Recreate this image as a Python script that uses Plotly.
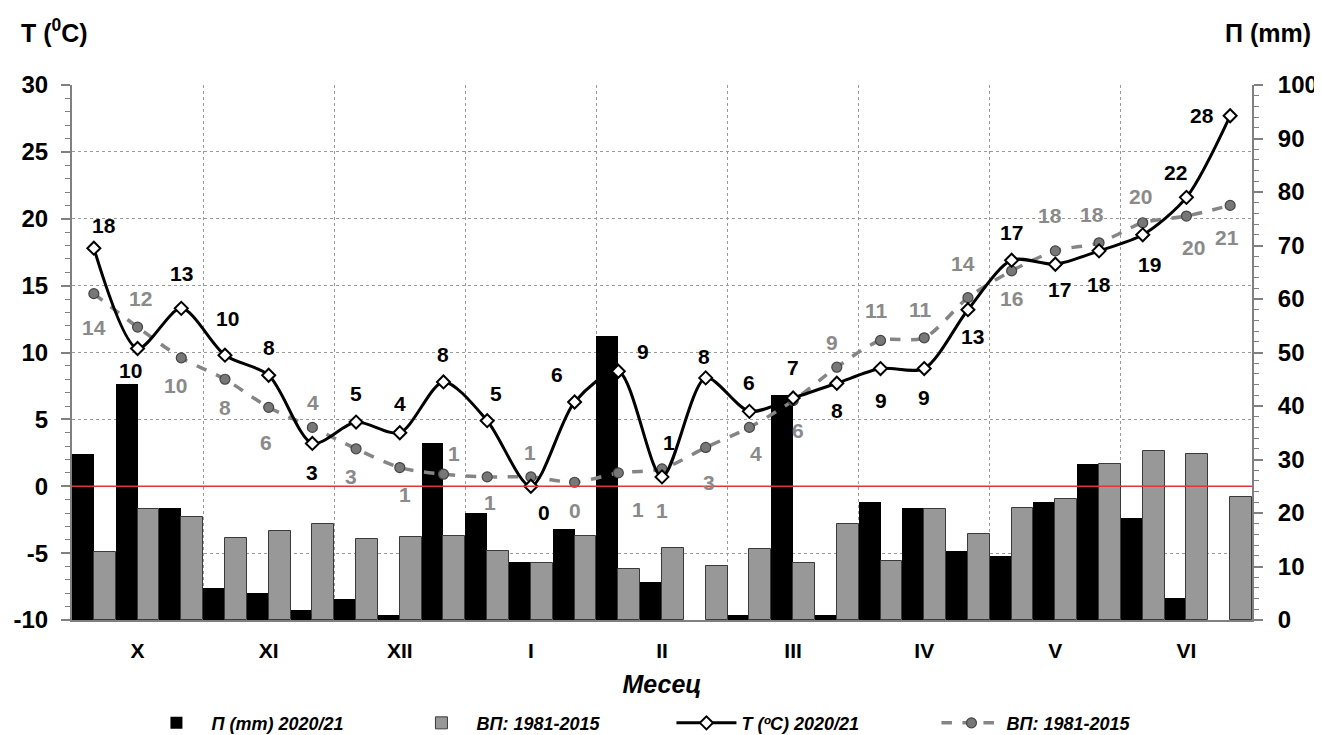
import plotly.graph_objects as go

# ---------------- data ----------------
months = ["X", "XI", "XII", "I", "II", "III", "IV", "V", "VI"]
decades_per_month = 3

# Precipitation (mm) per decade
precip_2021 = [31.0, 44.1, 20.9, 6.0, 5.0, 1.9, 3.9, 0.9, 33.1,
               20.0, 10.8, 17.0, 53.1, 7.1, 0.0, 0.9, 42.1, 0.9,
               22.1, 20.9, 12.9, 11.9, 22.1, 29.2, 19.1, 4.1, 0.0]
precip_avg = [12.7, 20.7, 19.3, 15.3, 16.7, 17.9, 15.1, 15.5, 15.7,
              12.9, 10.7, 15.7, 9.5, 13.5, 10.1, 13.3, 10.7, 17.9,
              11.0, 20.7, 16.1, 20.9, 22.6, 29.2, 31.6, 31.0, 23.0]

# Temperature (deg C) per decade
temp_2021 = [17.8, 10.3, 13.3, 9.8, 8.3, 3.2, 4.8, 4.0, 7.8,
             4.9, 0.0, 6.3, 8.6, 0.7, 8.1, 5.6, 6.6, 7.7,
             8.8, 8.8, 13.2, 16.9, 16.6, 17.6, 18.8, 21.6, 27.7]
temp_avg = [14.4, 11.9, 9.6, 8.0, 5.9, 4.4, 2.8, 1.4, 0.9,
            0.7, 0.7, 0.3, 1.0, 1.3, 2.9, 4.4, 6.4, 8.9,
            10.9, 11.1, 14.1, 16.1, 17.6, 18.2, 19.7, 20.2, 21.0]

temp_ticks = [-10, -5, 0, 5, 10, 15, 20, 25, 30]
precip_ticks = [0, 10, 20, 30, 40, 50, 60, 70, 80, 90, 100]

names = ["П (mm) 2020/21", "ВП: 1981-2015", "T (ºC) 2020/21", "ВП: 1981-2015"]

# label offsets in pixels (dx right, dy down) – styling only
t21_dx = [10, -7, 0, 3, 0, 0, 0, 0, 0, 9, 13, -18, 25, 7, -2, 0, 0, 0, 0, 0, 5, 0, 4, 0, 7, -11, -28]
t21_dy = [-23, 22, -35, -37, -28, 29, -29, -29, -27, -27, 26, -27, -20, -34, -21, -29, -30, 27,
          32, 29, 27, -28, 25, 34, 30, -25, 0]
tav_dx = [0, 3, -6, 0, -3, 1, -5, 5, 11, 3, -1, 0, 20, 0, 3, 7, 5, -5, -4, -4, -5, 0, -5, -7, -2, 7, -3]
tav_dy = [34, -29, 28, 28, 35, -25, 28, 27, -21, 26, -24, 28, 37, 42, 35, 26, 30, -25,
          -30, -28, -34, 28, -35, -28, -26, 31, 32]

# ---------------- figure ----------------
FONT = "Liberation Sans, Arial, sans-serif"
x = list(range(len(temp_2021)))
n_months = len(months)

fig = go.Figure()

fig.add_trace(go.Bar(
    x=x, y=precip_2021, name=names[0], yaxis="y",
    marker=dict(color="black", line=dict(color="black", width=0)),
    legendrank=1,
))
fig.add_trace(go.Bar(
    x=x, y=precip_avg, name=names[1], yaxis="y",
    marker=dict(color="#989898", line=dict(color="#3a3a3a", width=1)),
    legendrank=2,
))
fig.add_trace(go.Scatter(
    x=x, y=temp_avg, name=names[3], yaxis="y2", mode="lines+markers",
    line=dict(color="#858585", width=3.5, dash="dash", shape="spline", smoothing=0.8),
    marker=dict(symbol="circle", size=10, color="#777777", line=dict(color="#444444", width=1.2)),
    legendrank=4,
))
fig.add_trace(go.Scatter(
    x=x, y=temp_2021, name=names[2], yaxis="y2", mode="lines+markers",
    line=dict(color="black", width=3, shape="spline", smoothing=0.8),
    marker=dict(symbol="diamond", size=10, color="white", line=dict(color="black", width=2)),
    legendrank=3,
))

# data labels
for i, v in enumerate(temp_avg):
    fig.add_annotation(x=x[i], y=v, xref="x", yref="y2", text=f"{v:.0f}", showarrow=False,
                       xshift=tav_dx[i], yshift=-tav_dy[i],
                       font=dict(family=FONT, size=21, color="#8a8a8a", weight="bold"))
for i, v in enumerate(temp_2021):
    fig.add_annotation(x=x[i], y=v, xref="x", yref="y2", text=f"{v:.0f}", showarrow=False,
                       xshift=t21_dx[i], yshift=-t21_dy[i],
                       font=dict(family=FONT, size=21, color="black", weight="bold"))

# zero temperature line (red)
fig.add_shape(type="line", xref="paper", x0=0, x1=1, yref="y2", y0=0, y1=0,
              line=dict(color="#e0353a", width=1.3), layer="above")

# axis titles at top corners
fig.add_annotation(xref="paper", yref="paper", x=-0.045, y=1.101, xanchor="left", yanchor="middle",
                   text="T (<sup>0</sup>C)", showarrow=False,
                   font=dict(family=FONT, size=25, color="black", weight="bold"))
fig.add_annotation(xref="paper", yref="paper", x=1.052, y=1.097, xanchor="right", yanchor="middle",
                   text="П (mm)", showarrow=False,
                   font=dict(family=FONT, size=25, color="black", weight="bold"))

month_centers = [decades_per_month * k + 1 for k in range(n_months)]
month_bounds = [decades_per_month * k - 0.5 for k in range(1, n_months)]

# the page body adds an 8px offset; margins compensate for it
fig.update_layout(
    width=1322, height=735,
    margin=dict(l=64, r=78, t=77, b=123),
    paper_bgcolor="white", plot_bgcolor="white",
    barmode="group", bargap=0, bargroupgap=0,
    font=dict(family=FONT, color="black"),
    xaxis=dict(
        range=[-0.5, len(x) - 0.5], automargin=False,
        tickmode="array", tickvals=month_centers, ticktext=months,
        showgrid=False, zeroline=False,
        showline=True, linecolor="#808080", linewidth=2,
        ticks="", ticklabelstandoff=11,
        tickfont=dict(family=FONT, size=21, color="black", weight="bold"),
        minor=dict(tickmode="array", tickvals=month_bounds, showgrid=True,
                   gridcolor="#9a9a9a", griddash="dot", gridwidth=1, ticks=""),
        title=dict(text="Месец", standoff=14,
                   font=dict(family=FONT, size=25, color="black", weight="bold", style="italic")),
    ),
    yaxis=dict(
        range=[0, 100], side="right", automargin=False,
        tickmode="array", tickvals=precip_ticks, ticktext=[str(v) for v in precip_ticks],
        showgrid=False, zeroline=False,
        showline=True, linecolor="#808080", linewidth=2,
        ticks="outside", ticklen=9, tickwidth=2, tickcolor="#808080",
        minor=dict(dtick=2, tick0=0, ticks="outside", ticklen=5, tickwidth=1, tickcolor="#808080"),
        ticklabelstandoff=10,
        tickfont=dict(family=FONT, size=24, color="black", weight="bold"),
    ),
    yaxis2=dict(
        range=[-10, 30], side="left", overlaying="y", automargin=False,
        tickmode="array", tickvals=temp_ticks, ticktext=[str(v) for v in temp_ticks],
        showgrid=True, gridcolor="#9a9a9a", griddash="dot", gridwidth=1,
        zeroline=False,
        showline=True, linecolor="#808080", linewidth=2,
        ticks="outside", ticklen=9, tickwidth=2, tickcolor="#808080",
        minor=dict(dtick=1, tick0=0, ticks="outside", ticklen=5, tickwidth=1, tickcolor="#808080"),
        ticklabelstandoff=8,
        tickfont=dict(family=FONT, size=24, color="black", weight="bold"),
    ),
    legend=dict(
        orientation="h", xref="paper", x=0.508, xanchor="center",
        yref="container", y=0.027, yanchor="middle",
        traceorder="normal", entrywidth=190, entrywidthmode="pixels", itemwidth=60,
        font=dict(family=FONT, size=18, color="black", weight="bold", style="italic"),
        bgcolor="rgba(0,0,0,0)", tracegroupgap=0,
    ),
    showlegend=True,
)

fig.write_html("out.html")
